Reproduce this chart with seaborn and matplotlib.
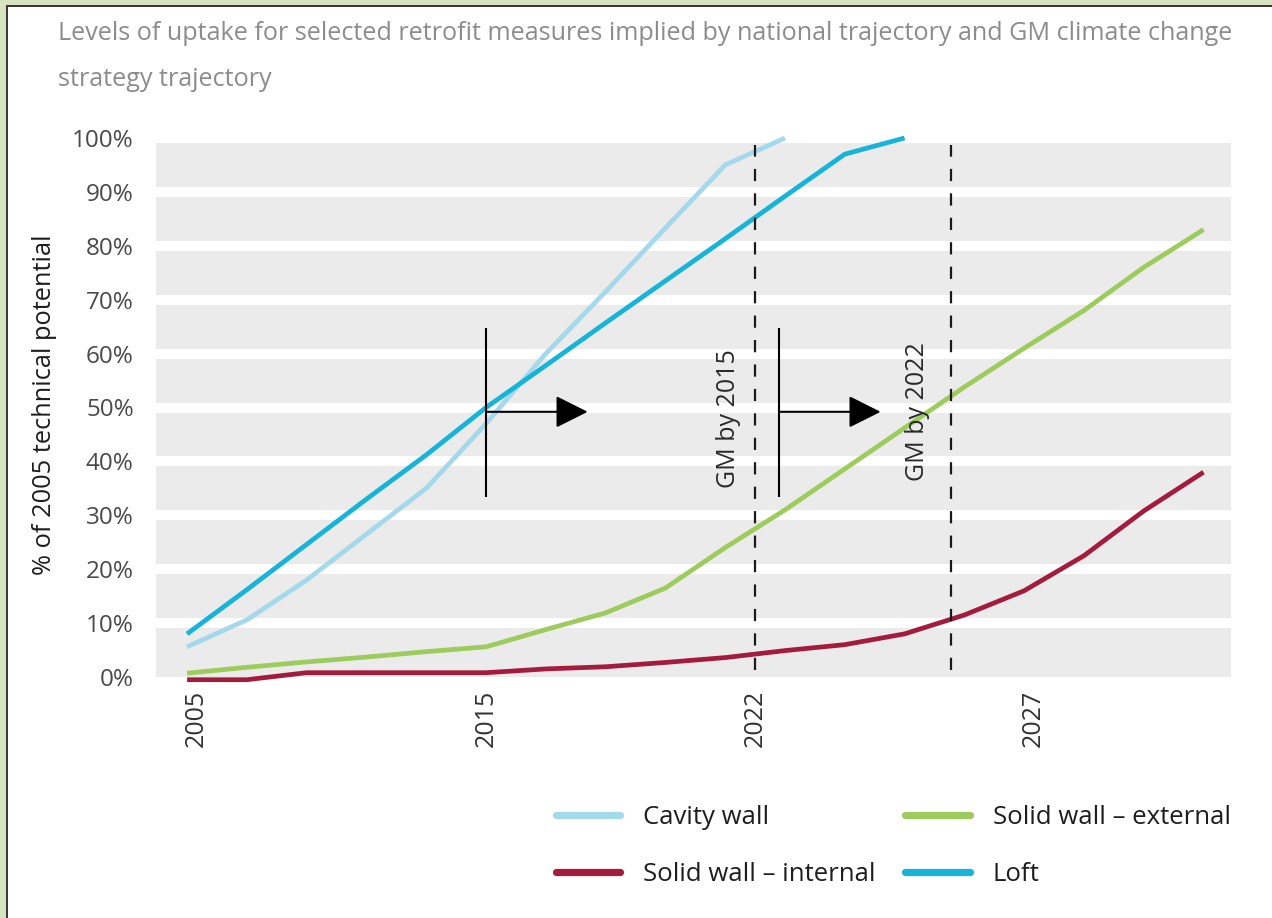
import numpy as np
import pandas as pd
import matplotlib
matplotlib.use("Agg")
import matplotlib.pyplot as plt
import seaborn as sns
from matplotlib import font_manager
from matplotlib.lines import Line2D
from matplotlib.patches import Rectangle

# ---------------- data ----------------
steps = list(range(18))
nan = np.nan
cavity_wall = [5.6, 10.6, 18.0, 26.5, 35.0, 47.0, 60.0, 71.5, 83.3, 95.0, 100.0] + [nan] * 7
loft = [8.0, 16.2, 24.6, 33.0, 41.2, 50.0, 57.8, 65.7, 73.5, 81.3, 89.2, 97.0, 100.0] + [nan] * 5
solid_external = [0.7, 1.8, 2.8, 3.7, 4.7, 5.6, 8.8, 11.9, 16.5, 24.0, 31.0, 38.6, 46.2,
                  53.8, 61.0, 68.0, 76.0, 83.0]
solid_internal = [-0.5, -0.5, 0.8, 0.8, 0.8, 0.8, 1.5, 1.9, 2.7, 3.6, 4.9, 6.0, 8.0,
                  11.5, 16.0, 22.5, 30.8, 38.0]

series_names = ["Cavity wall", "Solid wall \u2013 internal", "Solid wall \u2013 external", "Loft"]
series_values = [cavity_wall, solid_internal, solid_external, loft]
colors = ["#a3d9ea", "#a41b3d", "#9dcb5c", "#16b4d8"]

xtick_labels = ["2005", "2015", "2022", "2027"]
xtick_pos = [0.15, 5.0, 9.5, 14.15]
ytick_vals = list(range(0, 101, 10))

gm_lines = [9.5, 12.78]               # dashed reference lines
gm_labels = ["GM by 2015", "GM by 2022"]
gm_label_x = [9.05, 12.22]
gm_label_y = [48.0, 49.2]
arrow_start = [5.0, 9.9]
arrow_end = [6.7, 11.6]
arrow_level = 49.2
bar_low, bar_high = 33.4, 64.7

title_lines = ["Levels of uptake for selected retrofit measures implied by national trajectory and GM climate change",
               "strategy trajectory"]
ylabel = "% of 2005 technical potential"

# ---------------- fonts ----------------
def pick(*names):
    for n in names:
        try:
            font_manager.findfont(n, fallback_to_default=False)
            return n
        except Exception:
            pass
    return "DejaVu Sans"

narrow = pick("Liberation Sans Narrow", "Open Sans", "Noto Sans")
main_font = pick("Open Sans", "Noto Sans", "DejaVu Sans")

sns.set_theme(style="white")
plt.rcParams["font.family"] = [main_font, "DejaVu Sans"]

W, H = 1272, 918
fig = plt.figure(figsize=(W / 100, H / 100), dpi=100)
fig.patch.set_facecolor("white")

def fx(px):
    return px / W

def fy(py):
    return 1 - py / H

# frame decoration (green band + dark line on top and left)
fig.add_artist(Rectangle((0, fy(5)), 1, 5 / H, transform=fig.transFigure, color="#d6e3be", lw=0))
fig.add_artist(Rectangle((0, 0), fx(6), 1, transform=fig.transFigure, color="#d6e3be", lw=0))
fig.add_artist(Rectangle((fx(6), fy(7)), 1, 2 / H, transform=fig.transFigure, color="#3a3a3a", lw=0))
fig.add_artist(Rectangle((fx(6), 0), 2 / W, fy(5), transform=fig.transFigure, color="#3a3a3a", lw=0))

ax = fig.add_axes([fx(156), fy(677), fx(1231) - fx(156), (677 - 138) / H])
ax.set_facecolor("#ebebeb")

rows = []
for name, vals in zip(series_names, series_values):
    for s, v in zip(steps, vals):
        rows.append({"step": s, "value": v, "measure": name})
df = pd.DataFrame(rows).dropna()

sns.lineplot(data=df, x="step", y="value", hue="measure", hue_order=series_names,
             palette=dict(zip(series_names, colors)), linewidth=3.4, legend=False,
             sort=False, estimator=None, ax=ax, zorder=3)
for ln in ax.lines:
    ln.set_clip_on(False)
    ln.set_solid_capstyle("butt")

ax.set_xlim(-0.52, 17.46)
ax.set_ylim(0, 100)
ax.set_yticks(ytick_vals)
ax.set_yticklabels([f"{v}%" for v in ytick_vals], fontsize=17.5, color="#4a4a4a")
ax.set_xticks(xtick_pos)
ax.set_xticklabels(xtick_labels, rotation=90, fontsize=18, color="#333333")
ax.tick_params(axis="both", length=0)
ax.tick_params(axis="y", pad=16)
ax.tick_params(axis="x", pad=9)
ax.set_xlabel("")
ax.set_ylabel("")
for sp in ax.spines.values():
    sp.set_visible(False)
ax.yaxis.grid(True, color="white", linewidth=7.2, zorder=1)
ax.xaxis.grid(False)
ax.set_axisbelow(True)
ax.get_ygridlines()[0].set_visible(False)

# reference dashed lines
for xv in gm_lines:
    ax.vlines(xv, 1.3, 98.7, colors="#1a1a1a", linewidth=1.6, linestyles=(0, (5.5, 5.5)), zorder=4)
for xv, yv, lab in zip(gm_label_x, gm_label_y, gm_labels):
    ax.text(xv, yv, lab, rotation=90, ha="center", va="center", fontsize=18, color="#2a2a2a", zorder=5)

# vertical bars + arrows
for xs, xe in zip(arrow_start, arrow_end):
    ax.vlines(xs, bar_low, bar_high, colors="black", linewidth=1.5, zorder=5)
    ax.annotate("", xy=(xe, arrow_level), xytext=(xs, arrow_level),
                arrowprops=dict(arrowstyle="-|>,head_length=1.0,head_width=0.5",
                                color="black", lw=1.5, shrinkA=0, shrinkB=0,
                                mutation_scale=20), zorder=6)

# legend
handles = [Line2D([0], [0], color=c, lw=5.2) for c in colors]
fig.legend(handles, series_names, loc="center left", ncol=2, frameon=False,
           bbox_to_anchor=(fx(556), fy(846)), fontsize=18.5, handlelength=2.5,
           handletextpad=0.9, columnspacing=1.15, labelspacing=1.25,
           borderpad=0, borderaxespad=0, labelcolor="#1e1e1e")

# titles
t1 = fig.text(fx(58), fy(33), title_lines[0], ha="left", va="center", fontsize=16,
              color="#8c8c8c", family=[narrow, "DejaVu Sans"])
t2 = fig.text(fx(58), fy(80), title_lines[1], ha="left", va="center", fontsize=16,
              color="#8c8c8c", family=[narrow, "DejaVu Sans"])
yl = fig.text(fx(45), fy(405), ylabel, ha="center", va="center", rotation=90,
              fontsize=15, color="#1e1e1e")

fig.canvas.draw()
r = fig.canvas.get_renderer()
w = t1.get_window_extent(r).width
scale = (1237 - 58) / w
t1.set_fontsize(16 * scale)
t2.set_fontsize(16 * scale)
h = yl.get_window_extent(r).height
yl.set_fontsize(15 * 340 / h)

fig.savefig("out.png", dpi=100, facecolor=fig.get_facecolor())
